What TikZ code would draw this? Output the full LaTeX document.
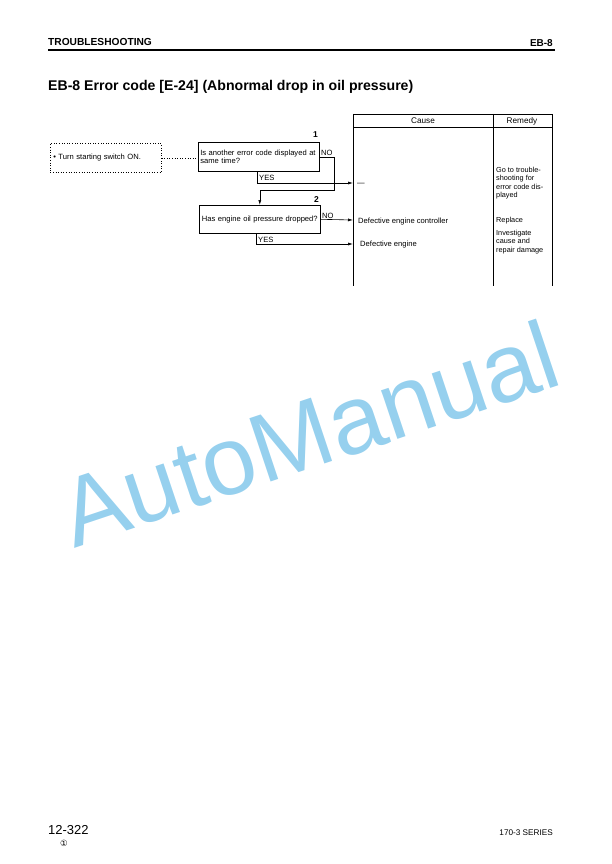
\documentclass[tikz,border=0pt]{standalone}
\usepackage{fontspec}
\setmainfont{Liberation Sans}
\newfontfamily\symfont{DejaVu Sans}
\usetikzlibrary{arrows.meta}
\definecolor{wmblue}{RGB}{150,208,238}
\begin{document}
\begin{tikzpicture}[x=1pt,y=-1pt,
  qbox/.style={draw, line width=0.6pt, rectangle, minimum width=121pt, minimum height=29pt,
     inner sep=2pt, text width=117pt, align=left, font=\fontsize{7.6}{8.8}\selectfont, anchor=north west},
  sbox/.style={draw, dotted, line width=0.6pt, rectangle, minimum width=111pt, minimum height=29pt,
     inner sep=3pt, text width=105pt, align=left, font=\fontsize{7.6}{8.8}\selectfont, anchor=north west},
  lbl/.style={font=\fontsize{7.6}{8.8}\selectfont, inner sep=0pt},
  num/.style={font=\bfseries\fontsize{8.5}{9}\selectfont, inner sep=0pt},
  ln/.style={line width=0.6pt},
  arr/.style={line width=0.6pt, -{Latex[length=5pt,width=3pt]}},
  tline/.style={line width=0.8pt},
  ctext/.style={font=\fontsize{7.6}{8.8}\selectfont, inner sep=0pt, anchor=west},
  rtext/.style={font=\fontsize{7.3}{8.5}\selectfont, inner sep=0pt, anchor=north west, align=left}
]
\useasboundingbox (0,0) rectangle (612,864);

% watermark
\node[font=\fontsize{97}{99}\selectfont, text=wmblue, rotate=18.5, anchor=center, inner sep=0pt] (wm) at (309,433) {AutoManual};

% header
\node[font=\bfseries\fontsize{10.2}{11}\selectfont, anchor=base west, inner sep=0pt] (hdl) at (48,46) {TROUBLESHOOTING};
\node[font=\bfseries\fontsize{10}{11}\selectfont, anchor=base east, inner sep=0pt] (hdr) at (553,47) {EB-8};
\draw[line width=1.3pt] (48,50) -- (555,50);

% title
\node[font=\bfseries\fontsize{14.1}{15}\selectfont, anchor=base west, inner sep=0pt] (title) at (48,91)
  {EB-8 Error code [E-24] (Abnormal drop in oil pressure)};

% table
\draw[tline] (353,114) -- (552,114);
\draw[tline] (353,127) -- (552,127);
\draw[tline] (353,114) -- (353,286);
\draw[tline] (493,114) -- (493,286);
\draw[tline] (552,114) -- (552,286);
\node[font=\fontsize{8.2}{9}\selectfont, anchor=base, inner sep=0pt] (hcause) at (423,123.5) {Cause};
\node[font=\fontsize{8.2}{9}\selectfont, anchor=base, inner sep=0pt] (hrem) at (522,123.5) {Remedy};

\coordinate (t1) at (353,183);
\coordinate (t2) at (353,220);
\coordinate (t3) at (353,244);

% flow boxes
\node[sbox] (start) at (50,143) {\textbullet\ Turn starting switch ON.};
\node[qbox] (q1) at (198,142) {Is another error code displayed at same time?};
\node[qbox, minimum height=28pt, align=center] (q2) at (199,205) {Has engine oil pressure dropped?};
\node[num, anchor=base east] (n1) at (318,138) {1};
\node[num, anchor=base east] (n2) at (319,202) {2};

\draw[ln, dotted] (start.east) -- (start.east -| q1.west);

% NO 1
\coordinate (k1) at (334,190);
\node[lbl, anchor=base west] (no1) at (321,155) {NO};
\draw[arr] (q1.east) -| (k1) -| (q2.north);

% YES 1
\node[lbl, anchor=base west] (yes1) at (259,180) {YES};
\draw[arr] ([xshift=-1.5pt]q1.south) |- (t1);

% NO 2
\node[lbl, anchor=base west] (no2) at (322,218) {NO};
\draw[arr] (q2.east) -- (t2);

% YES 2
\node[lbl, anchor=base west] (yes2) at (258,242) {YES};
\draw[arr] ([xshift=-4pt]q2.south) |- (t3);

% causes
\node[ctext] (c1) at (357,184) {—};
\node[ctext] (c2) at (358,222) {Defective engine controller};
\node[ctext] (c3) at (360,245) {Defective engine};

% remedies
\node[rtext] (r1) at (496,167) {Go to trouble-\\shooting for\\error code dis-\\played};
\node[ctext, font=\fontsize{7.3}{8.5}\selectfont] (r2) at (496,221) {Replace};
\node[rtext] (r3) at (496,230) {Investigate\\cause and\\repair damage};

% footer
\node[font=\fontsize{13}{14}\selectfont, anchor=base west, inner sep=0pt] (pg) at (48,834) {12-322};
\node[font=\symfont\fontsize{8.5}{9}\selectfont, inner sep=0pt] (rev) at (64,843) {①};
\node[font=\fontsize{8.2}{9}\selectfont, anchor=base east, inner sep=0pt] (ser) at (553,835) {170-3 SERIES};
\end{tikzpicture}
\end{document}
